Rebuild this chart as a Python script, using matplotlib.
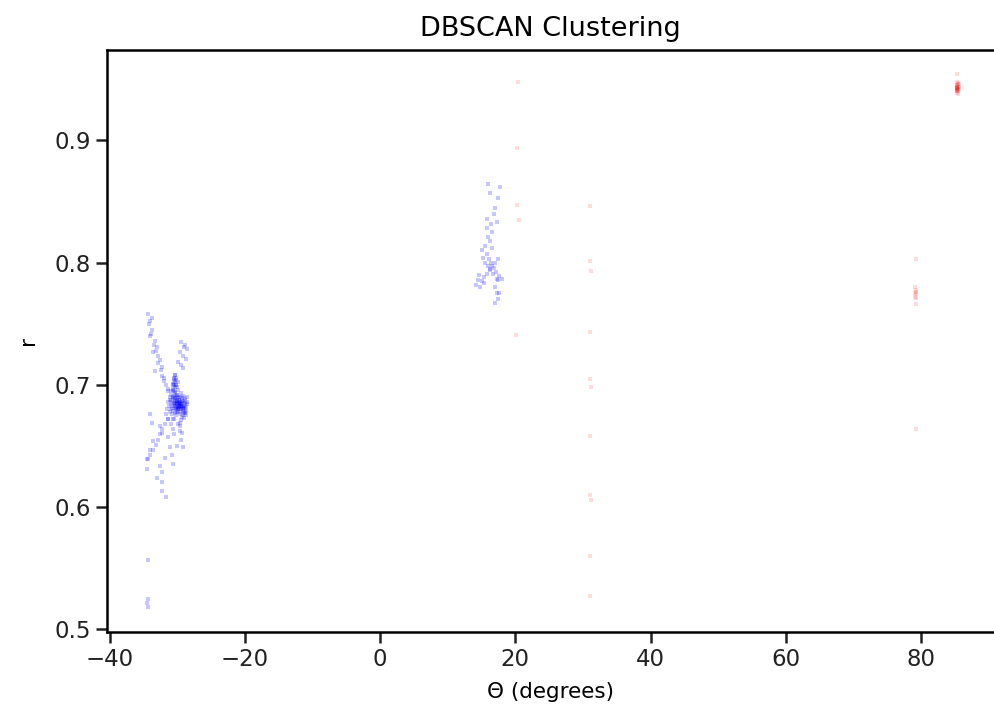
import matplotlib
matplotlib.use('Agg')
import matplotlib.pyplot as plt

# 左侧簇（蓝色） —— 上左臂、上右臂、核心、下方尾部
left_arm_theta = [-34.4, -33.8, -34.1, -33.8, -34.1, -33.3, -33.0, -33.6, -32.9, -32.6,
                  -32.3, -33.3, -32.2, -31.9, -31.4, -31.1, -29.9, -29.6, -29.4, -29.2,
                  -34.2, -33.9, -33.5, -33.1, -32.8, -32.4, -32.0, -31.7, -31.3, -30.9]
left_arm_r = [0.758, 0.755, 0.752, 0.745, 0.740, 0.736, 0.731, 0.727, 0.724, 0.720,
              0.715, 0.711, 0.707, 0.703, 0.695, 0.688, 0.668, 0.662, 0.655, 0.649,
              0.750, 0.742, 0.733, 0.728, 0.718, 0.712, 0.706, 0.700, 0.697, 0.692]

right_arm_theta = [-28.6, -29.4, -29.0, -29.6, -29.9, -29.2, -30.2, -30.5, -31.4, -32.2,
                   -32.9, -33.6, -34.4, -34.5, -34.1, -33.8, -32.6, -32.2,
                   -28.8, -29.1, -28.7, -29.5, -31.8, -32.5, -33.2, -34.0]
right_arm_r = [0.729, 0.735, 0.731, 0.727, 0.719, 0.714, 0.706, 0.700, 0.672, 0.664,
               0.655, 0.647, 0.639, 0.631, 0.676, 0.669, 0.666, 0.661,
               0.733, 0.724, 0.721, 0.716, 0.668, 0.660, 0.651, 0.643]

core_theta = [-30.4, -30.2, -30.0, -29.8, -29.6, -29.4, -29.2, -29.0, -28.8, -28.6,
              -30.6, -30.3, -30.1, -29.9, -30.5, -30.7, -30.9, -31.1, -31.3, -31.0,
              -30.8, -30.5, -30.2, -29.9, -29.6, -29.3, -29.0, -28.7, -28.9, -29.1,
              -29.5, -29.7, -30.0, -30.3, -30.6, -30.8, -31.2, -31.5, -31.7, -31.4,
              -30.4, -30.1, -29.8, -29.5, -29.3, -29.7, -30.0, -30.3, -29.2, -28.9,
              -30.4, -30.2, -30.6, -31.0, -30.7, -29.6, -29.3, -28.6, -28.5, -28.7,
              -30.1, -29.9, -29.6, -29.4, -30.3, -30.0, -29.7, -29.2, -29.9, -30.2]
core_r = [0.684, 0.686, 0.682, 0.688, 0.684, 0.680, 0.686, 0.683, 0.681, 0.684,
          0.690, 0.694, 0.698, 0.702, 0.705, 0.700, 0.695, 0.690, 0.686, 0.680,
          0.676, 0.672, 0.675, 0.678, 0.676, 0.674, 0.677, 0.679, 0.688, 0.691,
          0.693, 0.690, 0.692, 0.688, 0.683, 0.686, 0.683, 0.680, 0.676, 0.672,
          0.684, 0.685, 0.683, 0.685, 0.683, 0.681, 0.679, 0.681, 0.680, 0.684,
          0.708, 0.704, 0.696, 0.668, 0.664, 0.666, 0.661, 0.690, 0.686, 0.675,
          0.684, 0.682, 0.686, 0.684, 0.690, 0.687, 0.683, 0.682, 0.696, 0.700]

core2_theta = [-30.5, -30.3, -30.1, -29.9, -29.7, -29.5, -29.3, -29.1, -28.9, -28.7,
               -30.6, -30.4, -30.2, -30.0, -29.8, -29.6, -29.4, -29.2, -29.0, -28.8,
               -30.7, -30.5, -30.3, -30.1, -29.9, -29.7, -29.5, -29.3, -29.1, -28.9,
               -30.5, -30.4, -30.6, -30.3, -30.5, -30.2, -30.4, -30.6, -30.3, -30.5,
               -31.0, -30.8, -30.9, -31.1, -30.7, -29.4, -29.0, -28.8, -29.2, -29.6,
               -30.0, -29.8, -30.2, -29.6, -30.4, -29.4, -29.9, -30.1, -29.5, -29.7]
core2_r = [0.685, 0.683, 0.687, 0.681, 0.685, 0.683, 0.687, 0.681, 0.685, 0.682,
           0.679, 0.677, 0.680, 0.678, 0.682, 0.680, 0.678, 0.679, 0.681, 0.678,
           0.689, 0.691, 0.689, 0.692, 0.690, 0.688, 0.690, 0.689, 0.687, 0.689,
           0.695, 0.698, 0.701, 0.703, 0.706, 0.700, 0.693, 0.697, 0.708, 0.702,
           0.684, 0.681, 0.688, 0.678, 0.672, 0.671, 0.673, 0.677, 0.675, 0.669,
           0.684, 0.686, 0.681, 0.683, 0.687, 0.684, 0.680, 0.689, 0.682, 0.685]

tail_theta = [-30.1, -31.1, -30.8, -30.7, -32.3, -33.0, -32.2, -32.2, -31.6, -34.5,
              -34.1, -33.6, -34.4, -34.5, -34.4, -34.3, -31.8, -32.5, -31.3, -30.5]
tail_r = [0.650, 0.649, 0.643, 0.635, 0.629, 0.624, 0.621, 0.613, 0.608, 0.639,
          0.647, 0.654, 0.557, 0.522, 0.518, 0.525, 0.640, 0.634, 0.657, 0.660]

# 中间簇（蓝色）
mid_theta = [16.0, 16.3, 17.0, 17.3, 15.8, 15.8, 16.0, 15.5, 15.1, 15.2,
             15.5, 16.0, 16.3, 16.7, 17.3, 17.4, 14.6, 14.5, 14.2, 17.0,
             17.3, 17.0, 15.0, 15.4, 15.8, 16.2, 16.6, 17.0, 17.4, 15.8,
             16.1, 16.4, 16.8, 17.2, 17.6, 18.0, 14.8, 15.3, 16.5, 16.2,
             16.6, 16.4, 16.8, 17.6, 17.5, 17.7, 17.4]
mid_r = [0.864, 0.857, 0.845, 0.833, 0.836, 0.828, 0.821, 0.814, 0.810, 0.804,
         0.800, 0.797, 0.795, 0.791, 0.787, 0.786, 0.790, 0.786, 0.782, 0.780,
         0.775, 0.767, 0.785, 0.788, 0.791, 0.794, 0.797, 0.800, 0.803, 0.807,
         0.803, 0.800, 0.796, 0.792, 0.789, 0.787, 0.780, 0.783, 0.812, 0.818,
         0.825, 0.832, 0.840, 0.775, 0.770, 0.862, 0.853]

# 噪声 / 其它簇（红色）
red_theta = [20.4, 20.2, 20.3, 20.6, 20.1,
             31.1, 31.0, 31.2, 31.1, 31.1, 31.2, 31.1, 31.0, 31.2, 31.0, 31.1,
             79.2, 79.1, 79.3, 79.1, 79.3, 79.2, 79.2, 79.2, 79.1, 79.3,
             85.4, 85.3, 85.5, 85.4, 85.6, 85.3, 85.5, 85.4, 85.6, 85.4,
             85.3, 85.5, 85.4, 85.5, 85.4, 85.3, 85.6, 85.4, 85.5, 85.3,
             85.4, 85.5, 85.4, 85.3]
red_r = [0.948, 0.894, 0.847, 0.835, 0.741,
         0.846, 0.801, 0.793, 0.743, 0.705, 0.698, 0.658, 0.610, 0.606, 0.560, 0.527,
         0.803, 0.780, 0.776, 0.772, 0.766, 0.774, 0.778, 0.664, 0.775, 0.771,
         0.954, 0.948, 0.946, 0.944, 0.942, 0.940, 0.938, 0.943, 0.946, 0.941,
         0.944, 0.940, 0.945, 0.947, 0.939, 0.942, 0.944, 0.943, 0.941, 0.945,
         0.942, 0.944, 0.940, 0.943]

blue_theta = left_arm_theta + right_arm_theta + core_theta + core2_theta + tail_theta + mid_theta
blue_r = left_arm_r + right_arm_r + core_r + core2_r + tail_r + mid_r

fig = plt.figure(figsize=(9.94, 7.23), dpi=100)
ax = fig.add_axes([0.1076, 0.126, 0.8924, 0.805])

ax.scatter(blue_theta, blue_r, s=11, c='blue', marker='s', alpha=0.22, linewidths=0)
ax.scatter(red_theta, red_r, s=11, c='red', marker='s', alpha=0.14, linewidths=0)

ax.set_xlim(-40.4, 90.8)
ax.set_ylim(0.498, 0.974)
ax.set_xticks([-40, -20, 0, 20, 40, 60, 80])
ax.set_yticks([0.5, 0.6, 0.7, 0.8, 0.9])

ax.spines['right'].set_visible(False)
for s in ['left', 'bottom', 'top']:
    ax.spines[s].set_linewidth(1.8)
ax.tick_params(labelsize=16.5, length=8, width=1.8, colors='#222222')

ax.set_title('DBSCAN Clustering', fontsize=19.5, pad=10)
ax.set_xlabel('Θ (degrees)', fontsize=15.5, labelpad=8)
ax.set_ylabel('r', fontsize=15.5, labelpad=12)

plt.savefig('out.png', dpi=100)
